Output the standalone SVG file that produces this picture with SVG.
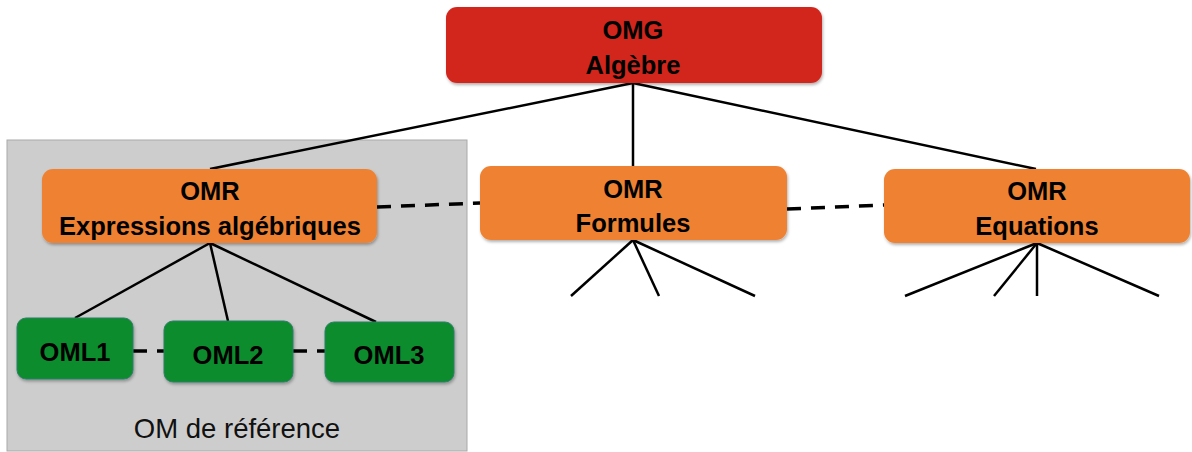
<svg xmlns="http://www.w3.org/2000/svg" width="1192" height="452" viewBox="0 0 1192 452">
  <style>
    .lbl { font-family: "Liberation Sans", Arial, sans-serif; font-weight: bold; font-size: 25.5px; fill: #000; text-anchor: middle; }
    .cap { font-family: "Liberation Sans", Arial, sans-serif; font-size: 27.5px; fill: #111; text-anchor: middle; }
    .omg { fill: #d2261f; }
    .omr { fill: #ef8232; }
    .oml { fill: #0c8c2e; stroke: #2f7f6a; stroke-width: 1; }
    .solid { stroke: #000; stroke-width: 2.5; fill: none; }
    .dash { stroke: #000; stroke-width: 3.5; fill: none; stroke-dasharray: 14 10; }
  </style>
  <defs>
    <filter id="sh" x="-10%" y="-10%" width="120%" height="130%">
      <feDropShadow dx="1" dy="2" stdDeviation="1.5" flood-color="#000" flood-opacity="0.3"/>
    </filter>
  </defs>
  <rect width="1192" height="452" fill="#fff"/>

  <g id="group-ref">
    <rect x="7" y="140" width="460" height="311" fill="#cdcdcd" stroke="#a9a9a9" stroke-width="1"/>
    <text class="cap" x="237" y="438">OM de référence</text>
  </g>

  <g id="connectors">
    <line class="solid" x1="633" y1="83" x2="210" y2="169"/>
    <line class="solid" x1="633" y1="83" x2="633" y2="166"/>
    <line class="solid" x1="633" y1="83" x2="1036" y2="169"/>
    <line class="solid" x1="210" y1="243" x2="75" y2="318"/>
    <line class="solid" x1="210" y1="243" x2="228" y2="321"/>
    <line class="solid" x1="210" y1="243" x2="376" y2="322"/>
    <line class="solid" x1="633" y1="240" x2="571" y2="296"/>
    <line class="solid" x1="633" y1="240" x2="659" y2="296"/>
    <line class="solid" x1="633" y1="240" x2="755" y2="296"/>
    <line class="solid" x1="1037" y1="243" x2="905" y2="296"/>
    <line class="solid" x1="1037" y1="243" x2="994" y2="296"/>
    <line class="solid" x1="1037" y1="243" x2="1037" y2="296"/>
    <line class="solid" x1="1037" y1="243" x2="1159" y2="296"/>
    <line class="dash" x1="377" y1="207" x2="480" y2="203"/>
    <line class="dash" x1="787" y1="209" x2="884" y2="205"/>
    <line class="dash" x1="133" y1="351" x2="164" y2="351"/>
    <line class="dash" x1="293" y1="351" x2="325" y2="351"/>
  </g>

  <g id="omg">
    <rect class="omg" x="446" y="7" width="376" height="76" rx="11" filter="url(#sh)"/>
    <text class="lbl" x="633" y="39">OMG</text>
    <text class="lbl" x="633" y="74">Algèbre</text>
  </g>

  <g id="omr-expressions">
    <rect class="omr" x="42" y="169" width="335" height="74" rx="11" filter="url(#sh)"/>
    <text class="lbl" x="210" y="200">OMR</text>
    <text class="lbl" x="210" y="235">Expressions algébriques</text>
  </g>

  <g id="omr-formules">
    <rect class="omr" x="480" y="166" width="307" height="74" rx="11" filter="url(#sh)"/>
    <text class="lbl" x="633" y="198">OMR</text>
    <text class="lbl" x="633" y="232">Formules</text>
  </g>

  <g id="omr-equations">
    <rect class="omr" x="884" y="169" width="306" height="74" rx="11" filter="url(#sh)"/>
    <text class="lbl" x="1037" y="200">OMR</text>
    <text class="lbl" x="1037" y="235">Equations</text>
  </g>

  <g id="oml1">
    <rect class="oml" x="17" y="318" width="116" height="61" rx="9" filter="url(#sh)"/>
    <text class="lbl" x="75" y="361">OML1</text>
  </g>

  <g id="oml2">
    <rect class="oml" x="164" y="321" width="129" height="61" rx="9" filter="url(#sh)"/>
    <text class="lbl" x="228" y="364">OML2</text>
  </g>

  <g id="oml3">
    <rect class="oml" x="325" y="322" width="129" height="60" rx="9" filter="url(#sh)"/>
    <text class="lbl" x="389" y="364">OML3</text>
  </g>
</svg>
